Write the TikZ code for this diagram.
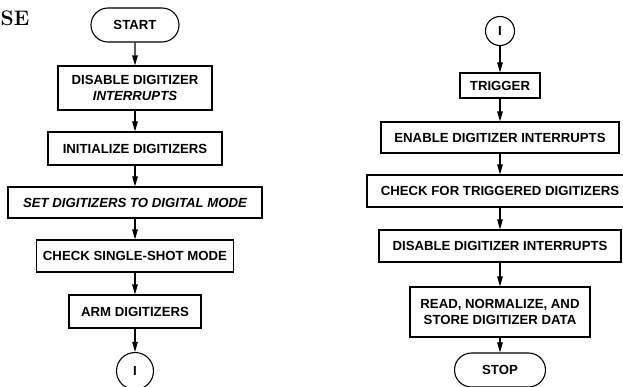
\documentclass[tikz,border=0pt]{standalone}
\usepackage{fontspec}
\usepackage{tikz}
\usetikzlibrary{shapes,arrows.meta}
\newfontfamily\flowfont{Liberation Sans}

\begin{document}
\begin{tikzpicture}[x=1pt, y=-1pt,
  every node/.style = {align=center, inner sep=0pt},
  box/.style = {shape=rectangle, draw, line width=1.1pt,
    font=\flowfont\bfseries\fontsize{13.2}{16}\selectfont},
  term/.style = {box, shape=rounded rectangle},
  conn/.style = {box, shape=circle},
  flow/.style = {line width=1.1pt, -{Triangle[length=10pt, width=5.5pt]}}]
  \useasboundingbox (0,0) rectangle (623,386);
  \node[anchor=base west, font=\bfseries\fontsize{21}{24}\selectfont] (cut) at (0.5,25) {SE};
  % left column
  \node[term, minimum width=88, minimum height=34] (start) at (135,25) {START};
  \node[box, minimum width=154, minimum height=44] (dis1) at (135,88)
    {DISABLE DIGITIZER\\ \textit{INTERRUPTS}};
  \node[box, minimum width=174, minimum height=33] (init) at (135,148.5) {INITIALIZE DIGITIZERS};
  \node[box, minimum width=254, minimum height=31] (mode) at (135,202.5)
    {\itshape SET DIGITIZERS TO DIGITAL MODE};
  \node[box, minimum width=197, minimum height=32] (shot) at (135,256) {CHECK SINGLE-SHOT MODE};
  \node[box, minimum width=132, minimum height=33] (arm) at (135,311.5) {ARM DIGITIZERS};
  \node[conn, minimum size=37] (out) at (135,371) {I};
  % right column
  \node[conn, minimum size=29] (in) at (500,31) {I};
  \node[box, minimum width=80, minimum height=25] (trig) at (500,85.5) {TRIGGER};
  \node[box, minimum width=238, minimum height=31] (enab) at (500,137.5) {ENABLE DIGITIZER INTERRUPTS};
  \node[box, minimum width=266, minimum height=32] (chk) at (500,191) {CHECK FOR TRIGGERED DIGITIZERS};
  \node[box, minimum width=242, minimum height=32] (dis2) at (500,246) {DISABLE DIGITIZER INTERRUPTS};
  \node[box, minimum width=180, minimum height=50] (read) at (500,312)
    {READ, NORMALIZE, AND\\ STORE DIGITIZER DATA};
  \node[term, minimum width=91, minimum height=34] (stop) at (500,370) {STOP};
  \foreach \a/\b in {start/dis1, dis1/init, init/mode, mode/shot, shot/arm, arm/out,
    in/trig, trig/enab, enab/chk, chk/dis2, dis2/read, read/stop}
    \draw[flow] (\a) -- (\b);
\end{tikzpicture}
\end{document}
